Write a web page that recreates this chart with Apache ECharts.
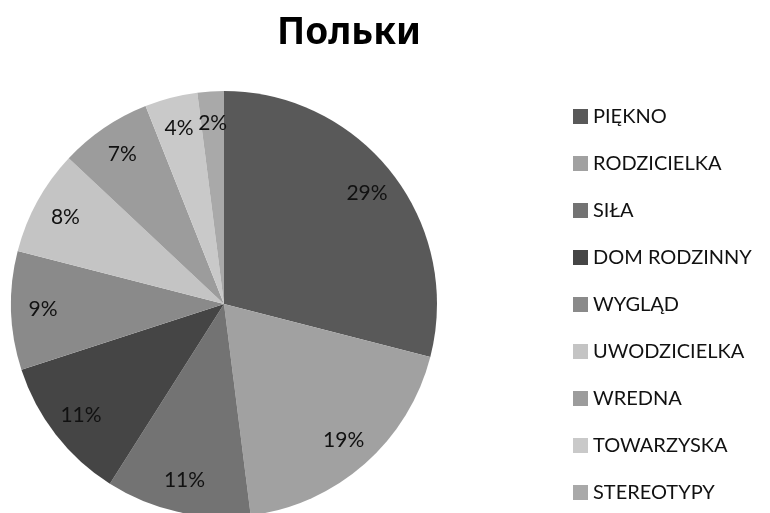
<!DOCTYPE html>
<html>
<head>
<meta charset="utf-8">
<script src="https://cdn.jsdelivr.net/npm/echarts@6/dist/echarts.min.js"></script>
<style>
  html, body { margin: 0; padding: 0; background: #ffffff; }
  #main { width: 770px; height: 513px; }
</style>
</head>
<body>
<div id="main"></div>
<script>
// dane wykresu
var categories = ['PIĘKNO', 'RODZICIELKA', 'SIŁA', 'DOM RODZINNY', 'WYGLĄD', 'UWODZICIELKA', 'WREDNA', 'TOWARZYSKA', 'STEREOTYPY']
var values = [29, 19, 11, 11, 9, 8, 7, 4, 2]
var colors = ['#595959', '#a1a1a1', '#737373', '#454545', '#8a8a8a', '#c4c4c4', '#9c9c9c', '#c9c9c9', '#a9a9a9']

var pieData = []
var labelData = []
for (var i = 0; i < categories.length; i++) {
  pieData.push({ name: categories[i], value: values[i], itemStyle: { color: colors[i] } })
  labelData.push({ name: categories[i], value: values[i] })
}

var chart = echarts.init(document.getElementById('main'))
var option = {
  backgroundColor: '#ffffff',
  animation: false,
  title: {
    text: 'Польки',
    left: 344,
    textAlign: 'center',
    top: 10,
    textStyle: { fontFamily: 'Noto Sans', fontWeight: 'bold', fontSize: 37, color: '#000' }
  },
  legend: {
    orient: 'vertical',
    left: 573,
    top: 106,
    padding: 0,
    itemWidth: 15,
    itemHeight: 15,
    itemGap: 26,
    icon: 'rect',
    data: categories,
    textStyle: { fontFamily: 'Lato', fontSize: 20, lineHeight: 21, color: '#111' }
  },
  series: [
    {
      type: 'pie',
      center: [224, 304],
      radius: [0, 213],
      startAngle: 90,
      clockwise: true,
      label: { show: false },
      labelLine: { show: false },
      itemStyle: { borderWidth: 0 },
      emphasis: { disabled: true },
      data: pieData
    },
    {
      // warstwa tylko z etykietami procentowymi
      type: 'pie',
      center: [224, 304],
      radius: [143, 213],
      startAngle: 90,
      clockwise: true,
      silent: true,
      itemStyle: { color: 'transparent', borderWidth: 0 },
      label: {
        show: true,
        position: 'inside',
        formatter: '{c}%',
        fontFamily: 'Lato',
        fontSize: 21,
        color: '#111'
      },
      labelLine: { show: false },
      emphasis: { disabled: true },
      data: labelData
    }
  ]
}
chart.setOption(option)
</script>
</body>
</html>
